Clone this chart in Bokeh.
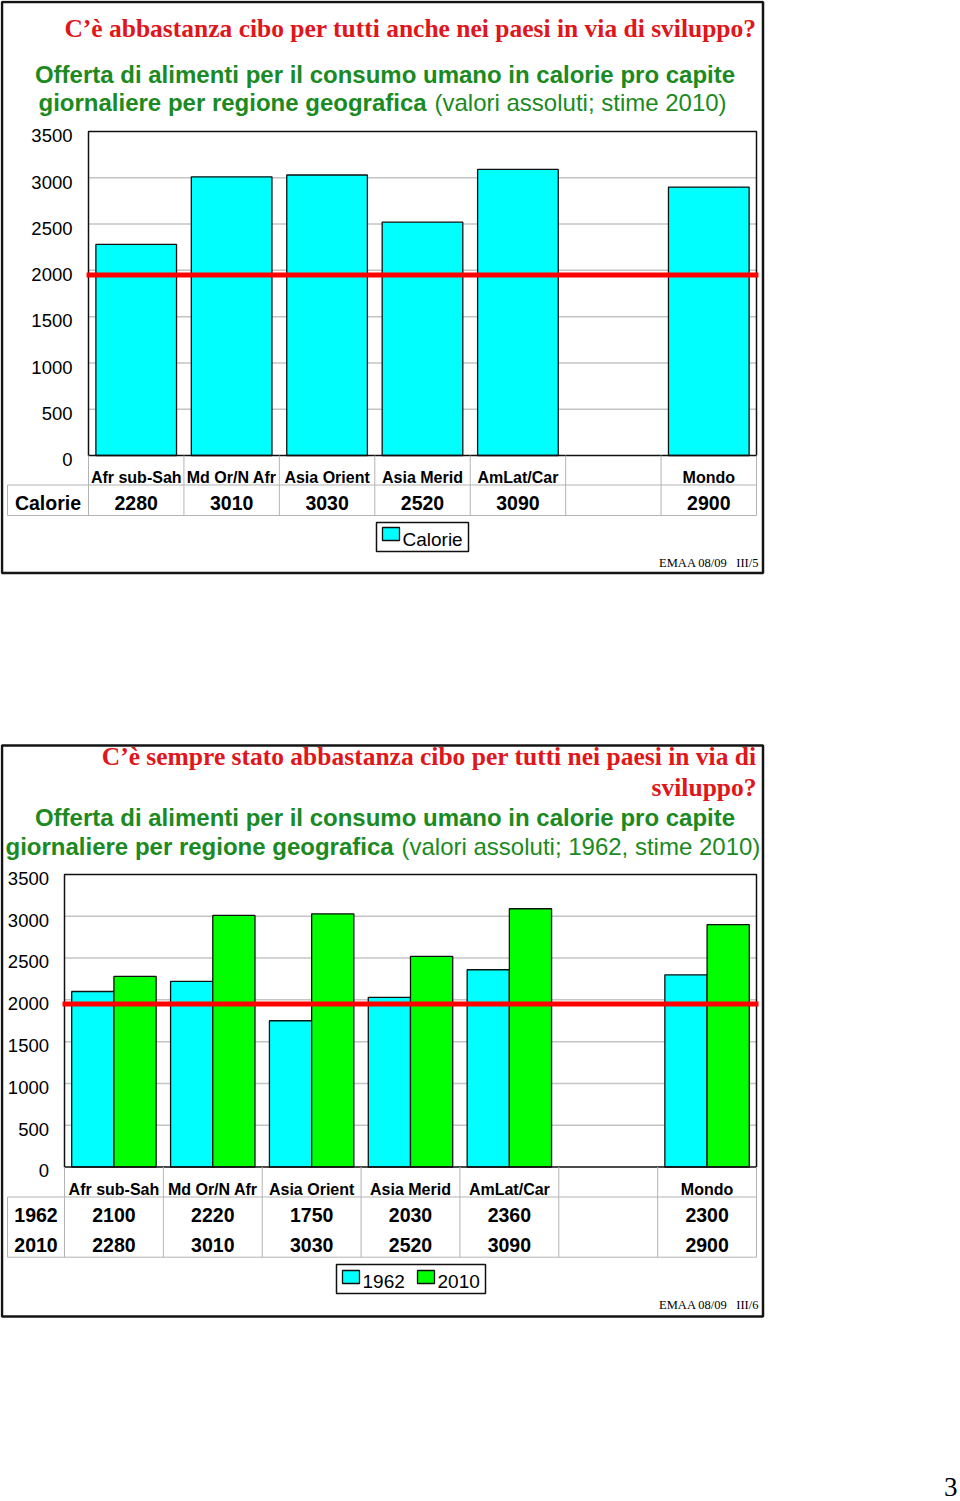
import math
from bokeh.plotting import figure
from bokeh.models import Range1d, ColumnDataSource
from bokeh.embed import file_html
from bokeh.resources import INLINE
from bokeh.core.properties import value
from bokeh.transform import dodge

# ---------------- data ----------------
regions = ["Afr sub-Sah", "Md Or/N Afr", "Asia Orient", "Asia Merid", "AmLat/Car", "", "Mondo"]
kcal_2010 = [2280, 3010, 3030, 2520, 3090, None, 2900]
kcal_1962 = [2100, 2220, 1750, 2030, 2360, None, 2300]
series_1 = ["Calorie"]
series_2 = ["1962", "2010"]
y_ticks = [0, 500, 1000, 1500, 2000, 2500, 3000, 3500]
soglia = 1950  # red reference line

title_1 = "C\u2019\u00e8 abbastanza cibo per tutti anche nei paesi in via di sviluppo?"
title_2a = "C\u2019\u00e8 sempre stato abbastanza cibo per tutti nei paesi in via di"
title_2b = "sviluppo?"
sub_a = "Offerta di alimenti per il consumo umano in calorie pro capite"
sub_b_bold = "giornaliere per regione geografica"
sub_b_1 = "(valori assoluti; stime 2010)"
sub_b_2 = "(valori assoluti; 1962, stime 2010)"

# ---------------- style ----------------
W, H = 960, 1501
CYAN, GREEN, RED = "#00ffff", "#00ff00", "#ff0000"
TITLE_RED, SUB_GREEN = "#e0161b", "#1b8a22"
GRID, TABLE = "#c4c4c4", "#b4b4b4"
SANS, SERIF = "Liberation Sans", "Liberation Serif"
BASE_FIX = -0.36  # baseline correction (fraction of font size)

n = len(regions)
nan = float("nan")


def clean(vals):
    return [nan if v is None else v for v in vals]


def labels(vals):
    return ["" if v is None else str(v) for v in vals]


def y_range_for(top_px, bottom_px, vmax):
    k = (bottom_px - top_px) / vmax
    return Range1d(start=-(H - bottom_px) / k, end=bottom_px / k)


def x_range_for(left_px, right_px, count):
    slot = (right_px - left_px) / count
    start = -0.5 - left_px / slot
    return Range1d(start=start, end=start + W / slot)


p = figure(width=W, height=H, x_range=Range1d(0, W), y_range=Range1d(H, 0),
           output_backend="svg", toolbar_location=None, min_border=0,
           x_axis_type=None, y_axis_type=None)
p.grid.visible = False
p.outline_line_color = None
p.background_fill_color = "white"
p.border_fill_color = "white"

# chart geometry (pixels)
C1 = dict(left=88, right=756, top=131, bottom=455)
C2 = dict(left=64, right=756, top=874, bottom=1166.5)
p.extra_x_ranges = {"c1x": x_range_for(C1["left"], C1["right"], n),
                    "c2x": x_range_for(C2["left"], C2["right"], n)}
p.extra_y_ranges = {"c1y": y_range_for(C1["top"], C1["bottom"], y_ticks[-1]),
                    "c2y": y_range_for(C2["top"], C2["bottom"], y_ticks[-1])}


def txt(x, y, s, size, color="black", font=SANS, style="normal", align="left",
        xr="default", yr="default"):
    p.text(x=[x], y=[y], text=[s], text_font=value(font), text_font_size=f"{size}px",
           text_font_style=style, text_color=color, text_align=align,
           text_baseline="alphabetic", y_offset=BASE_FIX * size,
           x_range_name=xr, y_range_name=yr)


def hline(x0, x1, y, color=TABLE, w=1):
    p.segment(x0=[x0], x1=[x1], y0=[y], y1=[y], line_color=color, line_width=w)


def vline(x, y0, y1, color=TABLE, w=1):
    p.segment(x0=[x], x1=[x], y0=[y0], y1=[y1], line_color=color, line_width=w)


# ---------------- slide frames ----------------
p.quad(left=[1.5, 1.5], right=[762.5, 762.5], top=[1.5, 745], bottom=[572.5, 1316],
       fill_color=None, line_color="#141414", line_width=2.5)


def draw_chart(xr, yr, G, tick_x, tick_off, bars, row_heads, row_vals, row_base,
               cat_base, table_top, table_bottom, cell_left):
    # gridlines
    p.segment(x0=-0.5, x1=n - 0.5, y0=y_ticks[1:-1], y1=y_ticks[1:-1],
              line_color=GRID, line_width=1.5, x_range_name=xr, y_range_name=yr)
    # bars
    for b in bars:
        p.vbar(**b, x_range_name=xr, y_range_name=yr)
    # plot border
    p.quad(left=[-0.5], right=[n - 0.5], bottom=[0], top=[y_ticks[-1]], fill_color=None,
           line_color="#111111", line_width=1.5, x_range_name=xr, y_range_name=yr)
    # red reference line
    p.segment(x0=[-0.52], x1=[n - 0.48], y0=[soglia], y1=[soglia], line_color=RED,
              line_width=5, x_range_name=xr, y_range_name=yr)
    # y tick labels
    p.text(x=tick_x, y=y_ticks, text=[str(t) for t in y_ticks], text_align="right",
           text_baseline="alphabetic", y_offset=tick_off + BASE_FIX * 18.5,
           text_font=value(SANS), text_font_size="18.5px", text_color="black",
           x_range_name="default", y_range_name=yr)
    # data table
    p.segment(x0=[i - 0.5 for i in range(n + 1)], x1=[i - 0.5 for i in range(n + 1)],
              y0=G["bottom"], y1=table_bottom, line_color=TABLE, line_width=1,
              x_range_name=xr, y_range_name="default")
    hline(cell_left, G["right"], table_top)
    hline(cell_left, G["right"], table_bottom)
    vline(cell_left, table_top, table_bottom)
    p.text(x=list(range(n)), y=cat_base, text=regions, text_align="center",
           text_baseline="alphabetic", y_offset=BASE_FIX * 16,
           text_font=value(SANS), text_font_size="16px",
           text_font_style="bold", text_color="black", x_range_name=xr)
    for head, vals, base in zip(row_heads, row_vals, row_base):
        p.text(x=list(range(n)), y=base, text=labels(vals), text_align="center",
               text_baseline="alphabetic", y_offset=BASE_FIX * 19.5,
               text_font=value(SANS), text_font_size="19.5px",
               text_font_style="bold", text_color="black", x_range_name=xr)
        txt((cell_left + G["left"]) / 2, base, head, 19.5, style="bold", align="center")


# ---------------- slide 1 ----------------
txt(756, 37.5, title_1, 25.5, color=TITLE_RED, font=SERIF, style="bold", align="right")
txt(384.5, 83, sub_a, 24, color=SUB_GREEN, style="bold", align="center")
txt(38, 111, sub_b_bold, 24, color=SUB_GREEN, style="bold")
txt(434, 111, sub_b_1, 24, color=SUB_GREEN)

src1 = ColumnDataSource(dict(idx=list(range(n)), kcal=clean(kcal_2010)))
draw_chart("c1x", "c1y", C1, 72, 11,
           [dict(x="idx", top="kcal", bottom=0, width=0.845, source=src1,
                 fill_color=CYAN, line_color="#111111", line_width=1.3)],
           series_1, [kcal_2010], [510], 482.3, 484.5, 515, 7)

# legend 1
p.quad(left=[376], right=[468], top=[522], bottom=[551], fill_color="white",
       line_color="#111111", line_width=1.5)
p.quad(left=[382], right=[399], top=[527], bottom=[540], fill_color=CYAN,
       line_color="#111111", line_width=1.3)
txt(402, 546, series_1[0], 19)

txt(727, 567, "EMAA 08/09", 12.5, font=SERIF, align="right")
txt(758, 567, "III/5", 12.5, font=SERIF, align="right")

# ---------------- slide 2 ----------------
txt(756, 765, title_2a, 25.5, color=TITLE_RED, font=SERIF, style="bold", align="right")
txt(756, 796, title_2b, 25.5, color=TITLE_RED, font=SERIF, style="bold", align="right")
txt(384.5, 826, sub_a, 24, color=SUB_GREEN, style="bold", align="center")
txt(5, 854.5, sub_b_bold, 24, color=SUB_GREEN, style="bold")
txt(401, 854.5, sub_b_2, 24, color=SUB_GREEN)

src2 = ColumnDataSource(dict(idx=list(range(n)), k62=clean(kcal_1962), k10=clean(kcal_2010)))
bw = 0.427
draw_chart("c2x", "c2y", C2, 48.5, 10.5,
           [dict(x=dodge("idx", -bw / 2), top="k62", bottom=0, width=bw, source=src2,
                 fill_color=CYAN, line_color="#111111", line_width=1.3),
            dict(x=dodge("idx", bw / 2), top="k10", bottom=0, width=bw, source=src2,
                 fill_color=GREEN, line_color="#111111", line_width=1.3)],
           series_2, [kcal_1962, kcal_2010], [1221.7, 1251.7], 1195, 1196.5, 1256.7, 7)

# legend 2
p.quad(left=[336], right=[485], top=[1264], bottom=[1293], fill_color="white",
       line_color="#111111", line_width=1.5)
p.quad(left=[342, 417], right=[359, 434], top=[1270, 1270], bottom=[1283, 1283],
       fill_color=[CYAN, GREEN], line_color="#111111", line_width=1.3)
txt(362, 1288, series_2[0], 19)
txt(437, 1288, series_2[1], 19)

txt(727, 1309, "EMAA 08/09", 12.5, font=SERIF, align="right")
txt(758, 1309, "III/6", 12.5, font=SERIF, align="right")

# page number
txt(957, 1496, "3", 27, font=SERIF, align="right")

open("out.html", "w").write(file_html(p, INLINE))
